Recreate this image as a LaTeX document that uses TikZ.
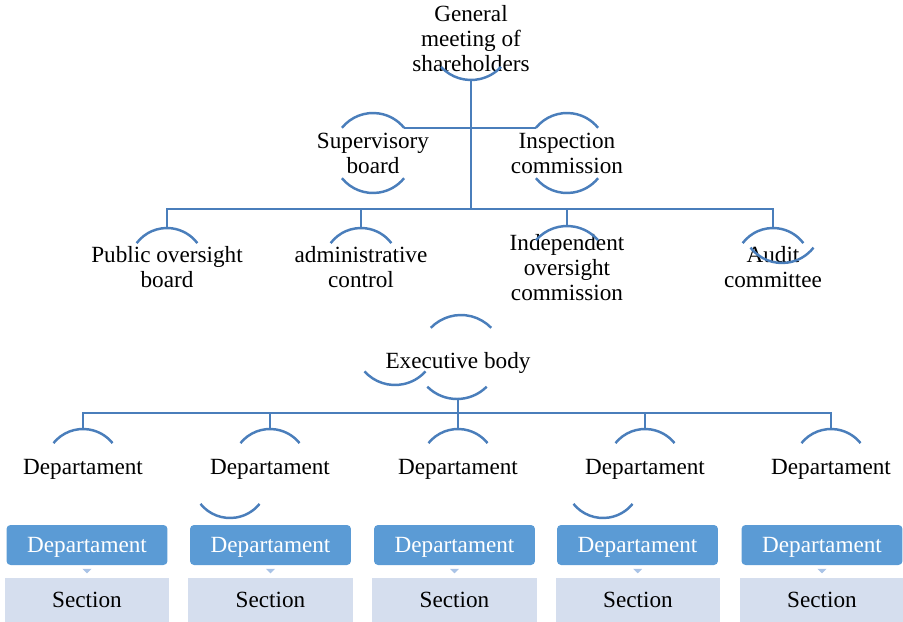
\documentclass[tikz,border=0pt]{standalone}
\usepackage{fontspec}
\setmainfont{Liberation Serif}
\usetikzlibrary{calc,arrows.meta}

\definecolor{lineblue}{HTML}{4A7EBB}
\definecolor{boxblue}{HTML}{5B9BD5}
\definecolor{secblue}{HTML}{D5DEEE}
\definecolor{pipblue}{HTML}{A9C3E6}

\begin{document}
\begin{tikzpicture}[x=0.02cm, y=-0.02cm,
	lbl/.style={align=center, inner sep=0pt, font=\fontsize{13.2}{14.2}\selectfont},
	onel/.style={lbl, text depth=0pt},
	link/.style={draw=lineblue, line width=1.4pt},
	arcline/.style={draw=lineblue, line width=1.4pt},
	deptbox/.style={onel, fill=boxblue, text=white, rounded corners=0.08cm,
		minimum width=3.22cm, minimum height=0.8cm},
	secbox/.style={lbl, fill=secblue, minimum width=3.3cm, minimum height=0.88cm},
	minilink/.style={draw=pipblue, line width=2.2pt, shorten <=3pt, shorten >=2.5pt,
		-{Triangle[width=5pt,length=2.5pt]}}]
	\def \rb{ 0.76cm }
	\def \rm{ 0.80cm }
	\def \rl{ 0.82cm }
	\useasboundingbox (0,0) rectangle (903,622);

	% top level
	\node[lbl] (gm) at (471,39) {General\\meeting of\\shareholders};
	\node[lbl] (sb) at (373,153) {Supervisory\\board};
	\node[lbl] (ic) at (567,153) {Inspection\\commission};

	\draw[arcline] ($(gm)+(223:\rl)$) arc[start angle=223, end angle=317, radius=\rl];
	\draw[arcline] ($(sb)+(141:\rm)$) arc[start angle=141, end angle=39, radius=\rm];
	\draw[arcline] ($(sb)+(219:\rm)$) arc[start angle=219, end angle=321, radius=\rm];
	\draw[arcline] ($(ic)+(141:\rm)$) arc[start angle=141, end angle=39, radius=\rm];
	\draw[arcline] ($(ic)+(219:\rm)$) arc[start angle=219, end angle=321, radius=\rm];

	\coordinate (gm-b) at (471,80);
	\coordinate (hub) at (471,209);
	\coordinate (sb-r) at ($(sb)+(39:\rm)$);
	\coordinate (ic-l) at ($(ic)+(141:\rm)$);

	% control bodies
	\node[lbl] (pob) at (167,267) {Public oversight\\board};
	\node[lbl] (ac) at (361,267) {administrative\\control};
	\node[lbl] (ioc) at (567,268) {Independent\\oversight\\commission};
	\node[lbl] (aud) at (773,267) {Audit\\committee};

	\draw[arcline] ($(pob)+(143:\rb)+(0,-1)$) arc[start angle=143, end angle=37, radius=\rb];
	\draw[arcline] ($(ac)+(143:\rb)+(0,-1)$) arc[start angle=143, end angle=37, radius=\rb];
	\draw[arcline] ($(ioc)+(139:\rl)+(0,-1)$) arc[start angle=139, end angle=41, radius=\rl];
	\draw[arcline] ($(aud)+(143:\rb)+(0,-1)$) arc[start angle=143, end angle=37, radius=\rb];
	\coordinate (aud-x) at (782,223);
	\draw[arcline] ($(aud-x)+(218:\rm)$) arc[start angle=218, end angle=322, radius=\rm];

	\coordinate (pob-t) at (167,228);
	\coordinate (ac-t) at (361,228);
	\coordinate (ioc-t) at (567,226);
	\coordinate (aud-t) at (773,228);

	\draw[link] (gm-b) -- (hub);
	\draw[link] (sb-r) -- (ic-l);
	\draw[link] (pob-t) -- (pob-t |- hub) -- (aud-t |- hub) -- (aud-t);
	\draw[link] (ac-t) -- (ac-t |- hub);
	\draw[link] (ioc-t) -- (ioc-t |- hub);

	% executive
	\node[onel] (ex) at (458,360) {Executive body};
	\draw[arcline] ($(ex)+(136:0.84cm)+(3,-3)$) arc[start angle=136, end angle=44, radius=0.84cm];
	\draw[arcline] ($(ex)+(225:0.84cm)+(-1,-3)$) arc[start angle=225, end angle=315, radius=0.84cm];
	\coordinate (ex-x) at (395,344);
	\draw[arcline] ($(ex-x)+(222:\rl)$) arc[start angle=222, end angle=318, radius=\rl];

	\coordinate (ex-b) at (458,398);
	\coordinate (bus) at (458,413);

	% departments
	\node[onel] (d1) at (83,467) {Departament};
	\node[onel] (d2) at (270,467) {Departament};
	\node[onel] (d3) at (458,467) {Departament};
	\node[onel] (d4) at (645,467) {Departament};
	\node[onel] (d5) at (831,467) {Departament};

	\draw[arcline] ($(d1)+(141:\rb)$) arc[start angle=141, end angle=39, radius=\rb];
	\draw[arcline] ($(d2)+(141:\rb)$) arc[start angle=141, end angle=39, radius=\rb];
	\draw[arcline] ($(d3)+(141:\rb)$) arc[start angle=141, end angle=39, radius=\rb];
	\draw[arcline] ($(d4)+(141:\rb)$) arc[start angle=141, end angle=39, radius=\rb];
	\draw[arcline] ($(d5)+(141:\rb)$) arc[start angle=141, end angle=39, radius=\rb];
	\coordinate (d2-x) at (230,480);
	\coordinate (d4-x) at (603,480);
	\draw[arcline] ($(d2-x)+(219:\rb)$) arc[start angle=219, end angle=321, radius=\rb];
	\draw[arcline] ($(d4-x)+(219:\rb)$) arc[start angle=219, end angle=321, radius=\rb];

	\coordinate (d1-t) at (83,429);
	\coordinate (d2-t) at (270,429);
	\coordinate (d3-t) at (458,429);
	\coordinate (d4-t) at (645,429);
	\coordinate (d5-t) at (831,429);

	\draw[link] (ex-b) -- (d3-t);
	\draw[link] (d1-t) -- (d1-t |- bus) -- (d5-t |- bus) -- (d5-t);
	\draw[link] (d2-t) -- (d2-t |- bus);
	\draw[link] (d4-t) -- (d4-t |- bus);

	% boxes
	\node[deptbox] (db1) at (87,545) {Departament};
	\node[deptbox] (db2) at (270.5,545) {Departament};
	\node[deptbox] (db3) at (454.5,545) {Departament};
	\node[deptbox] (db4) at (637.5,545) {Departament};
	\node[deptbox] (db5) at (822,545) {Departament};

	\node[secbox] (sc1) at (87,600) {Section};
	\node[secbox] (sc2) at (270.5,600) {Section};
	\node[secbox] (sc3) at (454.5,600) {Section};
	\node[secbox] (sc4) at (638,600) {Section};
	\node[secbox] (sc5) at (822,600) {Section};

	\draw[minilink] (db1) -- (sc1);
	\draw[minilink] (db2) -- (sc2);
	\draw[minilink] (db3) -- (sc3);
	\draw[minilink] (db4) -- (sc4);
	\draw[minilink] (db5) -- (sc5);
\end{tikzpicture}
\end{document}
